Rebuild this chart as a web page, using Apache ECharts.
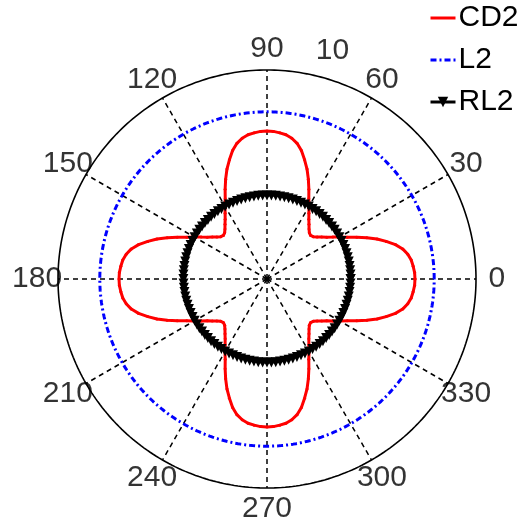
<!DOCTYPE html>
<html>
<head>
<meta charset="utf-8">
<style>
  html, body { margin: 0; padding: 0; background: #fff; }
  #chart { width: 521px; height: 528px; }
</style>
<script src="https://cdn.jsdelivr.net/npm/echarts@6/dist/echarts.min.js"></script>
</head>
<body>
<div id="chart"></div>
<script>
// Angular grid: spoke angles (degrees, counter-clockwise from east) and their labels
const angleTicks = [0, 30, 60, 90, 120, 150, 180, 210, 240, 270, 300, 330];
const angleTickLabels = ['0', '30', '60', '90', '120', '150', '180', '210', '240', '270', '300', '330'];

// Radial grid ring and its label
const ringValues = [10];
const ringLabels = ['10'];

// CD2 over one quadrant, 0..90 deg in 2.5 deg steps (the pattern repeats every 90 deg)
const cd2StepDeg = 2.5;
const cd2Quadrant = [
  7.08, 7.07, 7.02, 6.96, 6.84, 6.65, 6.36, 5.98, 5.60, 5.17,
  4.74, 4.33, 4.02, 3.73, 3.49, 3.30, 3.13, 3.00, 2.95, 3.00,
  3.13, 3.30, 3.49, 3.73, 4.02, 4.33, 4.74, 5.17, 5.60, 5.98,
  6.36, 6.65, 6.84, 6.96, 7.02, 7.07, 7.08
];

// L2 and RL2 are constant-radius traces
const l2Value = [8.0];
const rl2Value = [4.0];
const rl2StepDeg = 3;

// ---- build series data ----
function ringPoints(r, step) {
  const pts = [];
  for (let a = 0; a <= 360; a += step) pts.push([r, a]);
  return pts;
}

const cd2Data = [];
for (let q = 0; q < 4; q++) {
  cd2Quadrant.forEach((r, i) => {
    if (q > 0 && i === 0) return;
    cd2Data.push([r, q * 90 + i * cd2StepDeg]);
  });
}

const rMax = ringValues[ringValues.length - 1];
const fontFamily = '"Liberation Sans", Arial, Helvetica, sans-serif';

const series = [];

// dashed spokes from the centre to the outer ring
angleTicks.forEach(a => {
  series.push({
    type: 'line', coordinateSystem: 'polar', silent: true, symbol: 'none',
    z: 1,
    lineStyle: { color: '#000', width: 1.5, type: [5, 4] },
    data: [[0, a], [rMax, a]]
  });
});

// outer ring
ringValues.forEach(r => {
  series.push({
    type: 'line', coordinateSystem: 'polar', silent: true, symbol: 'none',
    z: 1,
    lineStyle: { color: '#000', width: 1.6 },
    data: ringPoints(r, 1)
  });
});

// data traces
series.push({
  name: 'CD2', type: 'line', coordinateSystem: 'polar',
  z: 3,
  symbol: 'circle', symbolSize: 3, showSymbol: true,
  itemStyle: { color: '#ff0000' },
  lineStyle: { color: '#ff0000', width: 3 },
  data: cd2Data
});
series.push({
  name: 'L2', type: 'line', coordinateSystem: 'polar',
  z: 3,
  symbol: 'none',
  itemStyle: { color: '#0000ff' },
  lineStyle: { color: '#0000ff', width: 3, type: [6, 3, 2, 3] },
  data: ringPoints(l2Value[0], 1)
});
series.push({
  name: 'RL2', type: 'line', coordinateSystem: 'polar',
  z: 4,
  symbol: 'triangle', symbolRotate: 180, symbolSize: 10, showSymbol: true,
  itemStyle: { color: '#000' },
  lineStyle: { color: '#000', width: 2 },
  data: ringPoints(rl2Value[0], rl2StepDeg)
});

const tickLabelStyle = {
  show: true, position: 'inside', color: '#000',
  textBorderWidth: 0, textBorderColor: 'transparent',
  fontSize: 30, fontFamily: fontFamily
};

// angle labels, centred just outside the outer ring
series.push({
  type: 'scatter', coordinateSystem: 'polar', silent: true,
  symbolSize: 0, z: 5,
  itemStyle: { color: '#000' },
  label: Object.assign({}, tickLabelStyle, {
    formatter: p => angleTickLabels[p.dataIndex]
  }),
  data: angleTicks.map(a => [rMax * 1.1, a])
});

// ring label
series.push({
  type: 'scatter', coordinateSystem: 'polar', silent: true,
  symbolSize: 0, z: 5,
  itemStyle: { color: '#000' },
  label: Object.assign({}, tickLabelStyle, {
    formatter: p => ringLabels[p.dataIndex]
  }),
  data: ringValues.map(r => [r * 1.135, 74])
});

const chart = echarts.init(document.getElementById('chart'), null, { renderer: 'canvas' });
chart.setOption({
  animation: false,
  backgroundColor: '#fff',
  polar: { center: [267, 279], radius: 250.8 },
  radiusAxis: { min: 0, max: 12, show: false },
  angleAxis: { type: 'value', min: 0, max: 360, startAngle: 0, clockwise: false, show: false },
  legend: {
    data: [
      { name: 'CD2', itemStyle: { opacity: 0 }, lineStyle: { width: 3 } },
      { name: 'L2', itemStyle: { opacity: 0 }, lineStyle: { width: 3 } },
      { name: 'RL2', lineStyle: { width: 3 } }
    ],
    orient: 'vertical',
    left: 429, top: 3,
    itemWidth: 25, itemHeight: 13, itemGap: 12,
    padding: 0,
    textStyle: { fontSize: 30, fontFamily: fontFamily, color: '#000', padding: [0, 0, 0, -2] }
  },
  series: series
});
</script>
</body>
</html>
